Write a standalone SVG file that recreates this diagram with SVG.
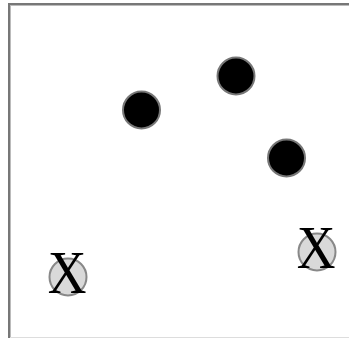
<svg xmlns="http://www.w3.org/2000/svg" width="349" height="338" viewBox="0 0 349 338">
<style>
.dot{fill:#000;stroke:#777;stroke-width:2}
.xc{fill:#d9d9d9;stroke:#888;stroke-width:2}
.xt{font-family:"Liberation Serif","Times New Roman",serif;font-size:61px;fill:#000;text-anchor:middle}
</style>
<rect x="0" y="0" width="349" height="338" fill="#fff"/>
<g id="frame" fill="none">
<line x1="8" y1="4" x2="349" y2="4" stroke="#777" stroke-width="2"/>
<line x1="10" y1="5.5" x2="349" y2="5.5" stroke="#bbb" stroke-width="1"/>
<line x1="9" y1="3" x2="9" y2="338" stroke="#777" stroke-width="2"/>
<line x1="10.5" y1="5" x2="10.5" y2="338" stroke="#bbb" stroke-width="1"/>
<line x1="10" y1="337.5" x2="349" y2="337.5" stroke="#ddd" stroke-width="1"/>
</g>
<g id="n1"><circle class="dot" cx="141.5" cy="110" r="18.5"/></g>
<g id="n2"><circle class="dot" cx="236" cy="76" r="18.5"/></g>
<g id="n3"><circle class="dot" cx="286.5" cy="158" r="18.5"/></g>
<g id="x1"><circle class="xc" cx="68" cy="277" r="18.5"/><text class="xt" transform="translate(67,293) scale(0.88,1)">X</text></g>
<g id="x2"><circle class="xc" cx="317" cy="252" r="18.5"/><text class="xt" transform="translate(316,268) scale(0.88,1)">X</text></g>
<g id="connectors"></g>
</svg>
